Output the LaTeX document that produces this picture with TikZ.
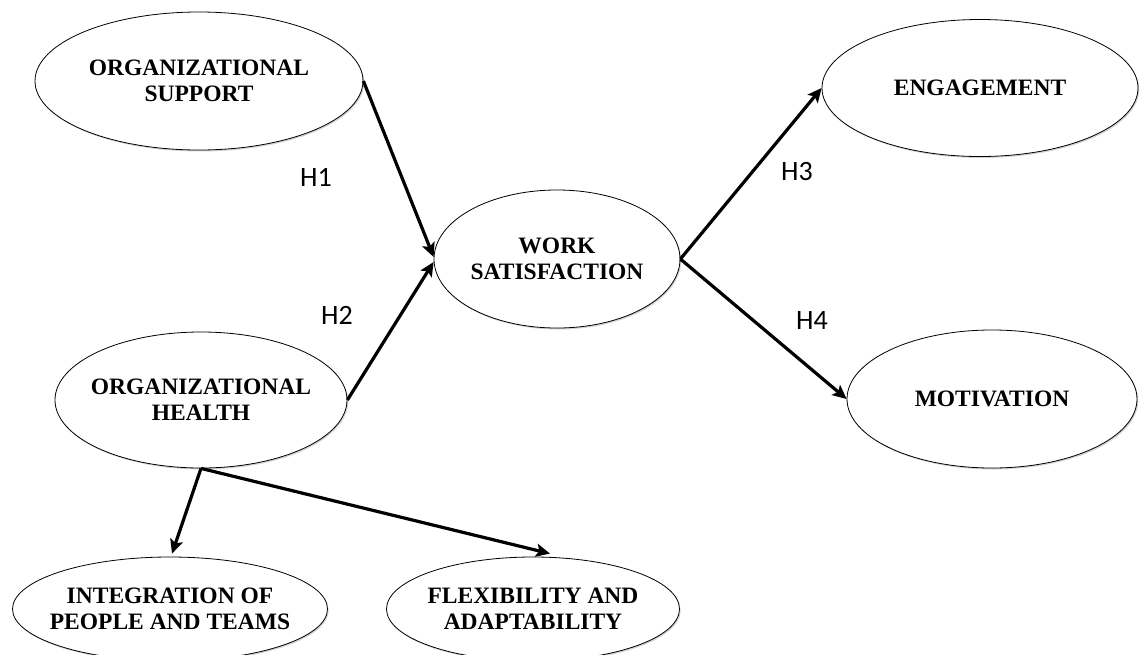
\documentclass[tikz,border=0pt]{standalone}
\usepackage{fontspec}
\setmainfont{Liberation Serif}
\newfontfamily\hfont{Carlito}
\usetikzlibrary{arrows.meta,shapes.geometric,shadows}
\begin{document}
\begin{tikzpicture}[x=1pt,y=-1pt,
  oval/.style={ellipse,draw=black,line width=0.8pt,fill=white,inner xsep=-30pt,inner ysep=-15pt,
    align=center,font=\fontsize{23.5}{26}\selectfont\bfseries,
    drop shadow={opacity=0.35,shadow xshift=1.2pt,shadow yshift=-1.5pt}},
  link/.style={line width=3.2pt,-{Stealth[length=14pt,width=13pt,inset=3pt]}},
  hyp/.style={font=\hfont\fontsize{28}{32}\selectfont,inner sep=0pt}]
\useasboundingbox (0,0) rectangle (1140,654);
\node[oval,minimum width=328pt,minimum height=138pt] (os) at (199,81) {ORGANIZATIONAL\\SUPPORT};
\node[oval,minimum width=316pt,minimum height=137pt] (eng) at (980,88) {ENGAGEMENT};
\node[oval,minimum width=246pt,minimum height=138pt] (ws) at (557,259) {WORK\\SATISFACTION};
\node[oval,minimum width=292pt,minimum height=136pt] (oh) at (201,400) {ORGANIZATIONAL\\HEALTH};
\node[oval,minimum width=290pt,minimum height=138pt] (mot) at (992,399) {MOTIVATION};
\node[oval,minimum width=315pt,minimum height=104pt] (ig) at (170,609) {INTEGRATION OF\\PEOPLE AND TEAMS};
\node[oval,minimum width=293pt,minimum height=104pt] (fx) at (533,609) {FLEXIBILITY AND\\ADAPTABILITY};
\node[hyp] (h1) at (316,177) {H1};
\node[hyp] (h2) at (337,315) {H2};
\node[hyp] (h3) at (797,172) {H3};
\node[hyp] (h4) at (812,321) {H4};
\draw[link] (os.east) -- ([yshift=2pt]ws.west);
\draw[link] (oh.east) -- ([yshift=-3pt]ws.west);
\draw[link] (ws.east) -- (eng.west);
\draw[link] (ws.east) -- (mot.west);
\draw[link] (oh.south) -- ([xshift=2pt,yshift=3pt]ig.north);
\draw[link] (oh.south) -- ([xshift=17pt,yshift=3pt]fx.north);
\end{tikzpicture}
\end{document}
